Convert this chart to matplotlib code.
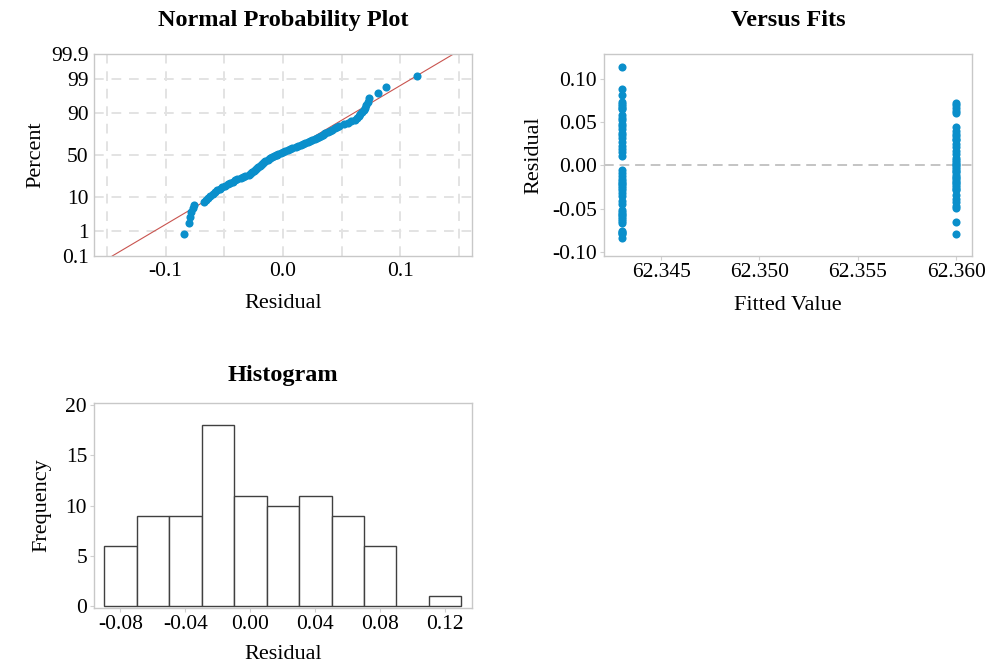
import numpy as np
import matplotlib
matplotlib.use("Agg")
import matplotlib.pyplot as plt
from statistics import NormalDist

# fitted values of the two groups
fits = [62.3430, 62.3600]

# residuals at the low fitted value
resid_low = [-0.084, -0.080, -0.078, -0.077, -0.076,
             -0.067, -0.064, -0.062, -0.060, -0.058, -0.056, -0.054, -0.052,
             -0.045, -0.041, -0.036, -0.032,
             -0.028, -0.026, -0.024, -0.022, -0.020, -0.018, -0.016, -0.012,
             -0.009, -0.005,
             0.011, 0.015, 0.019, 0.023, 0.027,
             0.032, 0.035, 0.038, 0.042, 0.046, 0.048,
             0.052, 0.055, 0.058, 0.065, 0.067, 0.069,
             0.071, 0.073, 0.081, 0.088,
             0.114]

# residuals at the high fitted value
resid_high = [-0.079,
              -0.066,
              -0.049, -0.047, -0.043, -0.039, -0.034,
              -0.029, -0.027, -0.025, -0.023, -0.021, -0.019, -0.017, -0.015,
              -0.013, -0.011,
              -0.008, -0.006, -0.004, -0.002, 0.000, 0.002, 0.004, 0.006, 0.008,
              0.013, 0.017, 0.021, 0.025, 0.029,
              0.031, 0.034, 0.036, 0.040, 0.044,
              0.061, 0.063, 0.066,
              0.070, 0.072]

pct_ticks = [0.1, 1, 10, 50, 90, 99, 99.9]
hist_edges = [-0.09, -0.07, -0.05, -0.03, -0.01, 0.01, 0.03, 0.05, 0.07, 0.09, 0.11, 0.13]

BLUE = "#0a8fcb"
SPINE = "#c8c8c8"
GRID = "#e3e3e3"
TICK_FS = 15.5
LABEL_FS = 16
TITLE_FS = 17.5

plt.rcParams["font.family"] = ["Liberation Serif", "DejaVu Serif"]

nd = NormalDist()
resid = np.sort(np.array(resid_low + resid_high))
n = len(resid)


def style(ax):
    for s in ax.spines.values():
        s.set_color(SPINE)
        s.set_linewidth(1.0)
    ax.tick_params(colors="#d0d0d0", labelcolor="black", length=3, width=0.8,
                   labelsize=TICK_FS, pad=2)


fig = plt.figure(figsize=(9.85, 6.7), dpi=100)
W, H = 985, 670


def add_axes(l, r, t, b):
    return fig.add_axes([l / W, 1 - b / H, (r - l) / W, (b - t) / H])


# normal probability plot
ax1 = add_axes(94, 472, 54, 256)
style(ax1)
z = np.array([nd.inv_cdf((i + 1 - 0.3) / (n + 0.4)) for i in range(n)])
mu, sd = resid.mean(), resid.std(ddof=1)
zlo, zhi = nd.inv_cdf(0.001), nd.inv_cdf(0.999)
xs = mu + sd * np.array([zlo, zhi])
ax1.plot(xs, [zlo, zhi], color="#c9544f", lw=0.8, zorder=2)
ax1.scatter(resid, z, s=34, color=BLUE, zorder=3, linewidths=0)
ax1.set_xlim(-0.161, 0.161)
ax1.set_ylim(zlo, zhi)
ax1.set_yticks([nd.inv_cdf(p / 100) for p in pct_ticks])
ax1.set_yticklabels(["0.1", "1", "10", "50", "90", "99", "99.9"])
ax1.set_xticks([-0.1, 0.0, 0.1])
ax1.set_xticklabels(["-0.1", "0.0", "0.1"])
for gx in np.arange(-0.15, 0.151, 0.05):
    ax1.axvline(gx, color=GRID, lw=1.4, ls=(0, (5, 4)), zorder=1)
for p in pct_ticks[1:-1]:
    ax1.axhline(nd.inv_cdf(p / 100), color=GRID, lw=1.4, ls=(0, (5, 4)), zorder=1)
ax1.tick_params(length=0, pad=4)
ax1.set_xlabel("Residual", fontsize=LABEL_FS, labelpad=10)
ax1.set_ylabel("Percent", fontsize=LABEL_FS, labelpad=4)
ax1.set_title("Normal Probability Plot", fontweight="bold", fontsize=TITLE_FS, pad=20)

# versus fits
ax2 = add_axes(604, 972, 54, 256)
style(ax2)
ax2.scatter([fits[0]] * len(resid_low), resid_low, s=34, color=BLUE, linewidths=0, zorder=3)
ax2.scatter([fits[1]] * len(resid_high), resid_high, s=34, color=BLUE, linewidths=0, zorder=3)
ax2.axhline(0, color="#c4c4c4", lw=1.4, ls=(0, (5, 3)), zorder=1)
ax2.set_xlim(62.3421, 62.3608)
ax2.set_ylim(-0.105, 0.129)
ax2.set_xticks([62.345, 62.350, 62.355, 62.360])
ax2.set_xticklabels(["62.345", "62.350", "62.355", "62.360"])
ax2.set_yticks([-0.10, -0.05, 0.0, 0.05, 0.10])
ax2.set_yticklabels(["-0.10", "-0.05", "0.00", "0.05", "0.10"])
ax2.set_xlabel("Fitted Value", fontsize=LABEL_FS, labelpad=10)
ax2.set_ylabel("Residual", fontsize=LABEL_FS, labelpad=6)
ax2.set_title("Versus Fits", fontweight="bold", fontsize=TITLE_FS, pad=20)

# histogram
ax3 = add_axes(94, 472, 403, 608)
style(ax3)
ax3.hist(resid, bins=hist_edges, color="white", edgecolor="#404040", linewidth=1.0)
ax3.set_xlim(-0.0963, 0.1365)
ax3.set_ylim(-0.15, 20.2)
ax3.set_xticks([-0.08, -0.04, 0.0, 0.04, 0.08, 0.12])
ax3.set_xticklabels(["-0.08", "-0.04", "0.00", "0.04", "0.08", "0.12"])
ax3.set_yticks([0, 5, 10, 15, 20])
ax3.set_xlabel("Residual", fontsize=LABEL_FS, labelpad=8)
ax3.set_ylabel("Frequency", fontsize=LABEL_FS, labelpad=10)
ax3.set_title("Histogram", fontweight="bold", fontsize=TITLE_FS, pad=16)

fig.savefig("out.png", dpi=100)
